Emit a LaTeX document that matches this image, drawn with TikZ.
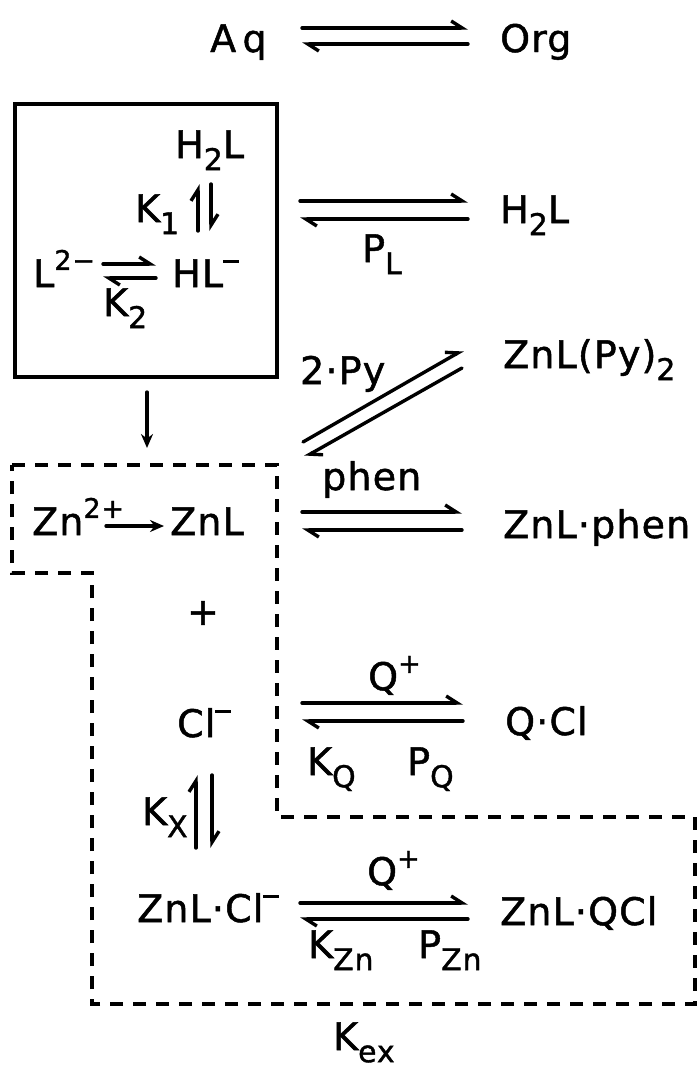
\documentclass[tikz,border=0pt]{standalone}
\usepackage{fontspec}
\setmainfont{DejaVu Sans}[FakeBold=1.3,LetterSpace=3]
\usetikzlibrary{arrows.meta}
\newcommand{\Sb}[1]{\raisebox{-0.32em}{\fontsize{30}{30}\selectfont #1}}
\newcommand{\Sp}[1]{\raisebox{0.45em}{\fontsize{27}{27}\selectfont #1}}
\newcommand{\Mn}{\raisebox{0.62em}{\rule{0.42em}{0.09em}}}
\begin{document}
\begin{tikzpicture}[x=1pt,y=-1pt,
  lbl/.style={inner sep=0pt, anchor=base west, font=\fontsize{38}{38}\selectfont},
  harp/.style={line width=3.4pt, line cap=round, -{Straight Barb[left,length=11pt,width=14pt]}},
  arr/.style={line width=3.3pt, line cap=round, -{Stealth[length=14pt,width=12pt]}},
  dashbox/.style={line width=3.2pt, dash pattern=on 13pt off 10pt},
  solidbox/.style={line width=3.3pt}]
\useasboundingbox (0,0) rectangle (697,1068);
% header
\node[lbl] (aq) at (210,52) {A\,q};
\node[lbl] (org) at (500,52) {Org};
\coordinate (t1) at (302,36); \coordinate (t2) at (468,36);
\draw[harp] ([yshift=8pt]t1) -- ([yshift=8pt]t2);
\draw[harp] ([yshift=-8pt]t2) -- ([yshift=-8pt]t1);
% solid box
\draw[solidbox] (15,104) rectangle (277,377);
\node[lbl] (h2l) at (175,158) {H\Sb{2}L};
\node[lbl] (k1) at (135,222) {K\Sb{1}};
\coordinate (k1a) at (198,231); \coordinate (k1b) at (198,184);
\coordinate (k1c) at (211,184); \coordinate (k1d) at (211,231);
\draw[harp] (k1a) -- (k1b);
\draw[harp] (k1c) -- (k1d);
\node[lbl] (l2) at (33,287) {L\Sp{2−}};
\node[lbl] (hl) at (172,287) {HL\Mn};
\coordinate (l2a) at (103,271); \coordinate (l2b) at (156,271);
\draw[harp] ([yshift=7pt]l2a) -- ([yshift=7pt]l2b);
\draw[harp] ([yshift=-7pt]l2b) -- ([yshift=-7pt]l2a);
\node[lbl] (k2) at (103,316) {K\Sb{2}};
% PL
\coordinate (p1) at (300,210); \coordinate (p2) at (468,210);
\draw[harp] ([yshift=9pt]p1) -- ([yshift=9pt]p2);
\draw[harp] ([yshift=-9pt]p2) -- ([yshift=-9pt]p1);
\node[lbl] (pl) at (362,262) {P\Sb{L}};
\node[lbl] (h2lo) at (500,223) {H\Sb{2}L};
% down arrow
\coordinate (dwa) at (147,392); \coordinate (dwb) at (147,448);
\draw[arr] (dwa) -- (dwb);
% diagonal
\coordinate (d1) at (303,442); \coordinate (d2) at (463,350);
\coordinate (d3) at (462,368); \coordinate (d4) at (305,457);
\draw[harp] (d1) -- (d2);
\draw[harp] (d3) -- (d4);
\node[lbl] (py) at (300,384) {2·Py};
\node[lbl] (znpy) at (503,368) {ZnL(Py)\Sb{2}};
\node[lbl] (phen) at (322,490) {phen};
% ZnL.phen row
\coordinate (f1) at (302,521); \coordinate (f2) at (462,521);
\draw[harp] ([yshift=9pt]f1) -- ([yshift=9pt]f2);
\draw[harp] ([yshift=-9pt]f2) -- ([yshift=-9pt]f1);
\node[lbl] (znphen) at (503,538) {ZnL·phen};
% dashed region
\draw[dashbox] (12,465) -- (277,465) -- (277,817) -- (695,817) -- (695,1004) -- (92,1004) -- (92,573) -- (12,573) -- cycle;
\node[lbl] (zn) at (32,535) {Zn\Sp{2+}};
\node[lbl] (znl) at (170,535) {ZnL};
\coordinate (za) at (106,526); \coordinate (zb) at (164,526);
\draw[arr] (za) -- (zb);
\node[lbl, anchor=center] (plus) at (203,613) {+};
\node[lbl] (cl) at (177,737) {Cl\Mn};
% Q.Cl row
\coordinate (q1) at (302,712); \coordinate (q2) at (463,712);
\draw[harp] ([yshift=9pt]q1) -- ([yshift=9pt]q2);
\draw[harp] ([yshift=-9pt]q2) -- ([yshift=-9pt]q1);
\node[lbl] (qp) at (368,690) {Q\Sp{+}};
\node[lbl] (kq) at (307,775) {K\Sb{Q}};
\node[lbl] (pq) at (407,775) {P\Sb{Q}};
\node[lbl] (qcl) at (505,735) {Q·Cl};
% Kx
\node[lbl] (kx) at (142,825) {K\Sb{X}};
\coordinate (kxa) at (196,848); \coordinate (kxb) at (196,775);
\coordinate (kxc) at (212,775); \coordinate (kxd) at (212,848);
\draw[harp] (kxa) -- (kxb);
\draw[harp] (kxc) -- (kxd);
% ZnL.Cl row
\node[lbl] (zncl) at (137,922) {ZnL·Cl\Mn};
\coordinate (z1) at (300,911); \coordinate (z2) at (468,911);
\draw[harp] ([yshift=8pt]z1) -- ([yshift=8pt]z2);
\draw[harp] ([yshift=-8pt]z2) -- ([yshift=-8pt]z1);
\node[lbl] (qp2) at (367,885) {Q\Sp{+}};
\node[lbl] (kzn) at (308,958) {K\Sb{Zn}};
\node[lbl] (pzn) at (418,958) {P\Sb{Zn}};
\node[lbl] (znqcl) at (500,925) {ZnL·QCl};
\node[lbl] (kex) at (333,1050) {K\Sb{ex}};
\end{tikzpicture}
\end{document}
